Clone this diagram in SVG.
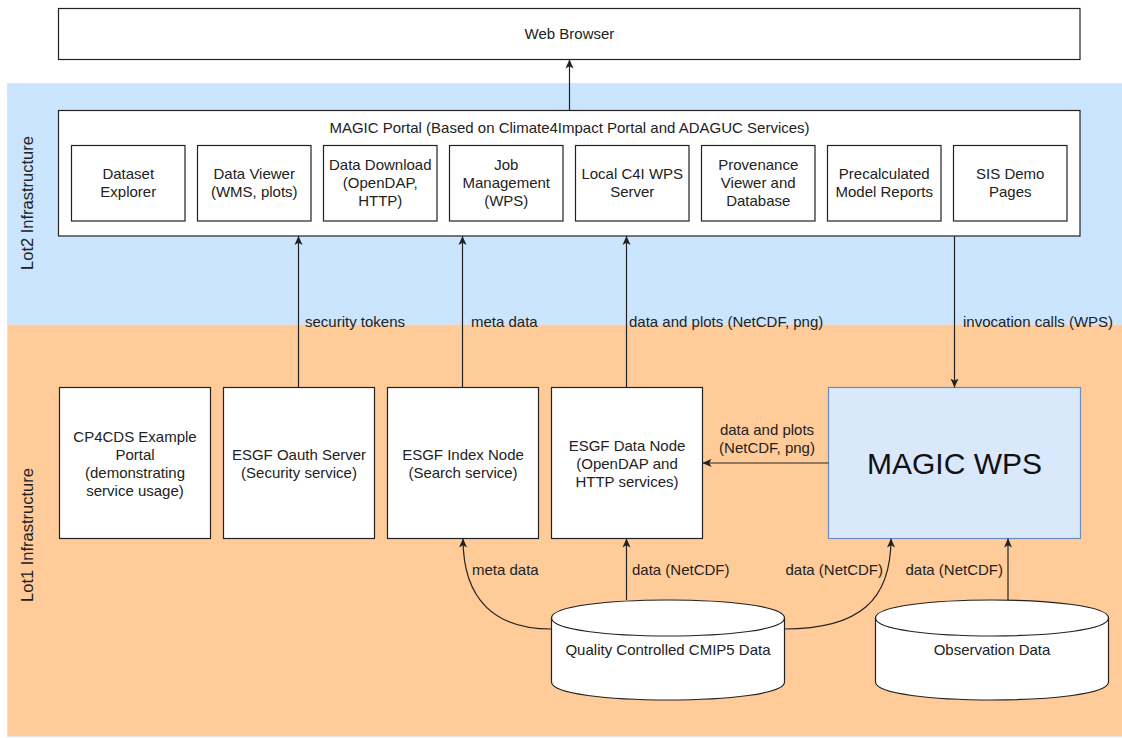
<svg xmlns="http://www.w3.org/2000/svg" width="1122" height="738" viewBox="0 0 1122 738">
<style>
text{font-family:"Liberation Sans",Arial,sans-serif;font-size:15px;fill:#222}
.c{text-anchor:middle}
.e{text-anchor:end}
.box{fill:#fff;stroke:#222;stroke-width:1.2}
.cn{fill:none;stroke:#222;stroke-width:1.2}
.lot{font-size:16.5px}
</style>
<defs>
<marker id="ah" viewBox="0 0 10 10" refX="10" refY="5" markerWidth="9" markerHeight="9" markerUnits="userSpaceOnUse" orient="auto">
<path d="M0,0.5 L10,5 L0,9.5 L2.5,5 Z" fill="#222"/>
</marker>
</defs>
<g id="bands">
<rect x="7.5" y="83.5" width="1115" height="241" fill="#cce5ff" stroke="#e2e2e2" stroke-width="1"/>
<rect x="7.5" y="324.5" width="1115" height="412" fill="#ffcc99" stroke="#e2e2e2" stroke-width="1"/>
<text class="c lot" transform="translate(33,203) rotate(-90)">Lot2 Infrastructure</text>
<text class="c lot" transform="translate(33,535) rotate(-90)">Lot1 Infrastructure</text>
</g>
<g id="web-browser">
<rect class="box" x="58.5" y="8.5" width="1021.5" height="51"/>
<text class="c" x="569.5" y="39">Web Browser</text>
</g>
<g id="magic-portal">
<rect class="box" x="58.5" y="110.5" width="1021.5" height="125.5"/>
<text class="c" x="569.5" y="133">MAGIC Portal (Based on Climate4Impact Portal and ADAGUC Services)</text>
</g>
<g id="dataset-explorer">
<rect class="box" x="71.5" y="145.5" width="113.5" height="75.5"/>
<text class="c" x="128.25" y="179">Dataset</text><text class="c" x="128.25" y="197">Explorer</text>
</g>
<g id="data-viewer">
<rect class="box" x="197.5" y="145.5" width="113.5" height="75.5"/>
<text class="c" x="254.25" y="179">Data Viewer</text><text class="c" x="254.25" y="197">(WMS, plots)</text>
</g>
<g id="data-download">
<rect class="box" x="323.5" y="145.5" width="113.5" height="75.5"/>
<text class="c" x="380.25" y="170">Data Download</text><text class="c" x="380.25" y="188">(OpenDAP,</text><text class="c" x="380.25" y="206">HTTP)</text>
</g>
<g id="job-management">
<rect class="box" x="449.5" y="145.5" width="113.5" height="75.5"/>
<text class="c" x="506.25" y="170">Job</text><text class="c" x="506.25" y="188">Management</text><text class="c" x="506.25" y="206">(WPS)</text>
</g>
<g id="local-c4i">
<rect class="box" x="575.5" y="145.5" width="113.5" height="75.5"/>
<text class="c" x="632.25" y="179">Local C4I WPS</text><text class="c" x="632.25" y="197">Server</text>
</g>
<g id="provenance">
<rect class="box" x="701.5" y="145.5" width="113.5" height="75.5"/>
<text class="c" x="758.25" y="170">Provenance</text><text class="c" x="758.25" y="188">Viewer and</text><text class="c" x="758.25" y="206">Database</text>
</g>
<g id="precalculated">
<rect class="box" x="827.5" y="145.5" width="113.5" height="75.5"/>
<text class="c" x="884.25" y="179">Precalculated</text><text class="c" x="884.25" y="197">Model Reports</text>
</g>
<g id="sis-demo">
<rect class="box" x="953.5" y="145.5" width="113.5" height="75.5"/>
<text class="c" x="1010.25" y="179">SIS Demo</text><text class="c" x="1010.25" y="197">Pages</text>
</g>
<g id="cp4cds">
<rect class="box" x="59.5" y="387.5" width="151" height="151"/>
<text class="c" x="135" y="442">CP4CDS Example</text><text class="c" x="135" y="460">Portal</text><text class="c" x="135" y="478">(demonstrating</text><text class="c" x="135" y="496">service usage)</text>
</g>
<g id="esgf-oauth">
<rect class="box" x="223.5" y="387.5" width="151" height="151"/>
<text class="c" x="299" y="460">ESGF Oauth Server</text><text class="c" x="299" y="478">(Security service)</text>
</g>
<g id="esgf-index">
<rect class="box" x="387.5" y="387.5" width="151" height="151"/>
<text class="c" x="463" y="460">ESGF Index Node</text><text class="c" x="463" y="478">(Search service)</text>
</g>
<g id="esgf-data">
<rect class="box" x="551.5" y="387.5" width="151" height="151"/>
<text class="c" x="627" y="451">ESGF Data Node</text><text class="c" x="627" y="469">(OpenDAP and</text><text class="c" x="627" y="487">HTTP services)</text>
</g>
<g id="magic-wps">
<rect x="828.5" y="387.5" width="252" height="151" fill="#dae8fc" stroke="#6c8ebf" stroke-width="1.2"/>
<text class="c" x="954.5" y="474" style="font-size:30px;fill:#111">MAGIC WPS</text>
</g>
<g id="cmip5-data">
<path class="box" d="M551.5,618 C551.5,594 784.5,594 784.5,618 L784.5,682 C784.5,706 551.5,706 551.5,682 Z"/>
<path class="cn" d="M551.5,618 C551.5,642 784.5,642 784.5,618"/>
<text class="c" x="668" y="655">Quality Controlled CMIP5 Data</text>
</g>
<g id="observation-data">
<path class="box" d="M875.5,618 C875.5,594 1108.5,594 1108.5,618 L1108.5,682 C1108.5,706 875.5,706 875.5,682 Z"/>
<path class="cn" d="M875.5,618 C875.5,642 1108.5,642 1108.5,618"/>
<text class="c" x="992" y="655">Observation Data</text>
</g>
<g id="connectors">
<path class="cn" marker-end="url(#ah)" d="M569.5,110.5 L569.5,59.5"/>
<path class="cn" marker-end="url(#ah)" d="M298.5,387.5 L298.5,236"/>
<path class="cn" marker-end="url(#ah)" d="M462.5,387.5 L462.5,236"/>
<path class="cn" marker-end="url(#ah)" d="M626.5,387.5 L626.5,236"/>
<path class="cn" marker-end="url(#ah)" d="M954.5,236 L954.5,387.5"/>
<path class="cn" marker-end="url(#ah)" d="M828.5,463 L702.5,463"/>
<path class="cn" marker-end="url(#ah)" d="M551.5,629 C495,629 463,600 463,538.5"/>
<path class="cn" marker-end="url(#ah)" d="M626.5,600 L626.5,538.5"/>
<path class="cn" marker-end="url(#ah)" d="M784.5,629 C860,629 891,600 891,538.5"/>
<path class="cn" marker-end="url(#ah)" d="M1008,600 L1008,538.5"/>
<text x="305" y="327">security tokens</text>
<text x="471" y="327">meta data</text>
<text x="629" y="327">data and plots (NetCDF, png)</text>
<text x="963" y="327">invocation calls (WPS)</text>
<text class="c" x="767" y="435">data and plots</text>
<text class="c" x="767" y="453">(NetCDF, png)</text>
<text x="472" y="575">meta data</text>
<text x="632" y="575">data (NetCDF)</text>
<text class="e" x="883" y="575">data (NetCDF)</text>
<text class="e" x="1003" y="575">data (NetCDF)</text>
</g>
</svg>
